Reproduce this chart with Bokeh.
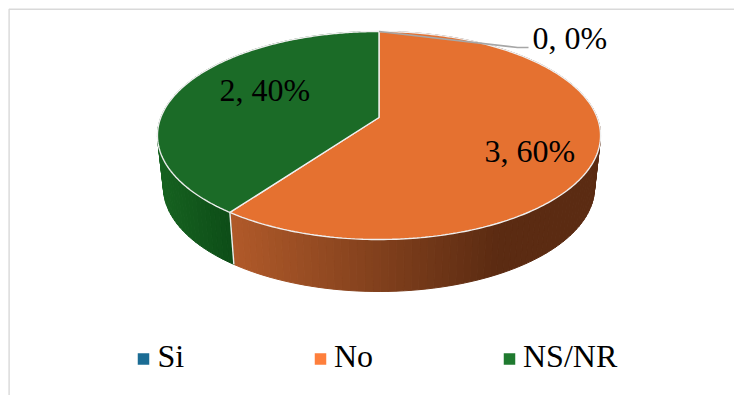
import numpy as np
from bokeh.plotting import figure
from bokeh.models import Range1d
from bokeh.core.properties import value
from bokeh.embed import file_html
from bokeh.resources import INLINE

categories = ["Si", "No", "NS/NR"]
values = [0, 3, 2]
top_colors = ["#1B6C94", "#E57130", "#1B6B27"]
legend_colors = ["#1B6C94", "#FE7F3C", "#1F7A2F"]
side_left = {"No": (176, 90, 42), "NS/NR": (22, 98, 32)}
side_right = {"No": (91, 43, 18), "NS/NR": (14, 78, 24)}

W, H = 734, 395
CX, CY = 378.5, 117.0      # apex of the pie in pixels
A, B, K = 218.2, 100.9, 0.173  # perspective ellipse
DEPTH, SHRINK = 52.0, 0.973
TEXT_SHIFT = -12.5

def top(th):
    u, v = np.sin(th), np.cos(th)
    d = 1 + K * v
    return CX + A * u / d, CY - B * v / d

def bottom(th):
    x, y = top(th)
    return CX + (x - CX) * SHRINK, y + DEPTH

p = figure(width=W, height=H, output_backend="svg", toolbar_location=None,
           x_range=Range1d(0, W), y_range=Range1d(H, 0), min_border=0,
           outline_line_color=None, background_fill_color="white", border_fill_color="white")
p.axis.visible = False
p.grid.visible = False

# chart border (left and top edges)
p.line([8.6, 8.6, W], [H, 8.7, 8.7], line_color="#D9D9D9", line_width=1.4)

total = sum(values)
fracs = [v / total for v in values]
edges = np.concatenate([[0], np.cumsum(fracs)]) * 2 * np.pi

# side wall
xs, ys, cols = [], [], []
for name, a0, a1 in zip(categories, edges[:-1], edges[1:]):
    if a1 <= a0:
        continue
    n = max(2, int((a1 - a0) / 0.03))
    ths = np.linspace(a0, a1, n + 1)
    for t0, t1 in zip(ths[:-1], ths[1:]):
        x0, y0 = top(t0); x1, y1 = top(t1)
        x2, y2 = bottom(t1); x3, y3 = bottom(t0)
        xs.append([x0, x1, x2, x3]); ys.append([y0, y1, y2, y3])
        if name == "No":
            f = float(np.clip(((x0 + x1) / 2 - 232) / (500 - 232), 0, 1))
        else:
            f = 1 - float(np.clip((228 - (x0 + x1) / 2) / 70, 0, 1))
        c = [int(l + (r - l) * f) for l, r in zip(side_left[name], side_right[name])]
        cols.append("#%02x%02x%02x" % tuple(c))
p.patches(xs, ys, fill_color=cols, line_color=cols, line_width=1.0)

# separator on the wall
for a in edges[1:-1]:
    if a > 0 and np.cos(a) < 0:
        x0, y0 = top(a); x1, y1 = bottom(a)
        p.line([x0, x1], [y0, y1], line_color="#EFEFEF", line_width=1.4)

# top face
for name, col, a0, a1 in zip(categories, top_colors, edges[:-1], edges[1:]):
    if a1 <= a0:
        continue
    ths = np.linspace(a0, a1, 240)
    x, y = top(ths)
    p.patch(np.r_[CX, x], np.r_[CY, y], fill_color=col, line_color="#EFEFEF", line_width=1.4)

# leader line of the empty slice
lx, ly = top(edges[0])
p.line([lx, 517, 528], [ly, 47, 47], line_color="#A6A6A6", line_width=1.6)

# data labels
labels = [f"{v}, {round(f * 100)}%" for v, f in zip(values, fracs)]
label_x = [532, 484, 219]
label_y = [50 + TEXT_SHIFT, 163 + TEXT_SHIFT, 102 + TEXT_SHIFT]
p.text(label_x, label_y, text=labels, text_font=value("Liberation Serif"), text_font_size="32px",
       text_color="#000000", text_align="left", text_baseline="alphabetic")

# legend
swatch_x = [143, 320, 509]
text_x = [157, 333.5, 522.5]
p.scatter(swatch_x, [358.5] * 3, marker="square", size=11.5, fill_color=legend_colors, line_color=None)
p.text(text_x, [368 + TEXT_SHIFT] * 3, text=categories, text_font=value("Liberation Serif"), text_font_size="32px",
       text_color="#000000", text_align="left", text_baseline="alphabetic")

open("out.html", "w").write(file_html(p, INLINE))
